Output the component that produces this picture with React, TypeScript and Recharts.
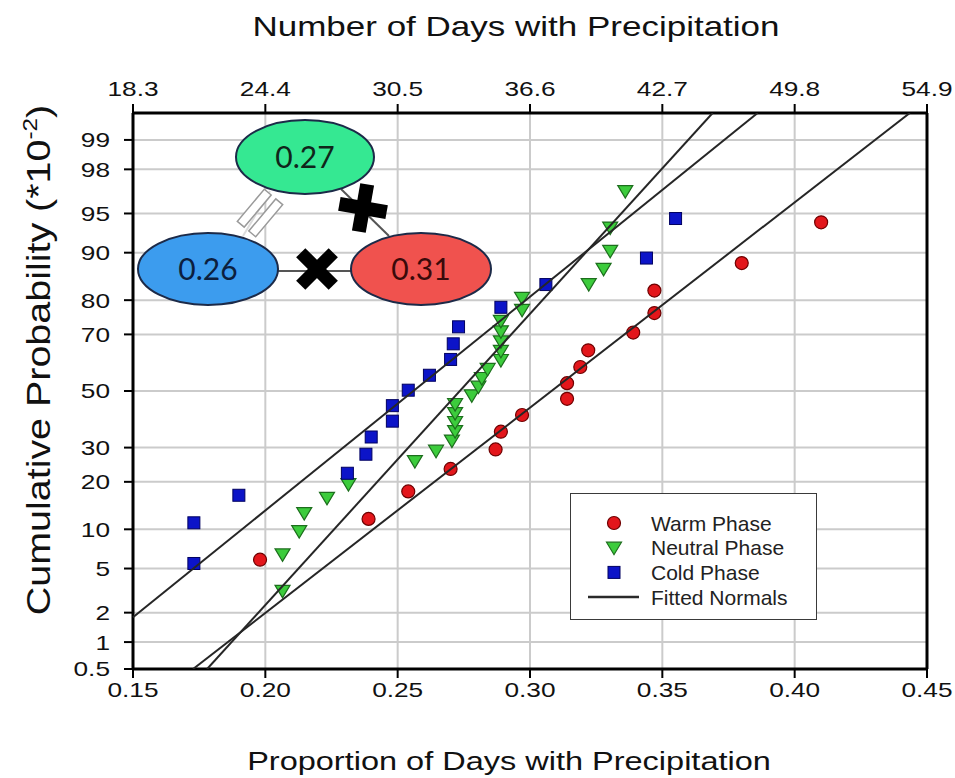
import React from "react";
import {
  ScatterChart,
  Scatter,
  XAxis,
  YAxis,
  CartesianGrid,
  ReferenceLine,
  Legend,
} from "recharts";

// proportion of days with precipitation (x) and cumulative probability in percent (p)
const warmX = [0.198, 0.239, 0.254, 0.27, 0.287, 0.289, 0.297, 0.314, 0.314, 0.319, 0.322, 0.339, 0.347, 0.347, 0.38, 0.41];
const warmP = [5.9, 11.8, 17.6, 23.5, 29.4, 35.3, 41.2, 47.1, 52.9, 58.8, 64.7, 70.6, 76.5, 82.4, 88.2, 94.1];

const neutralX = [
  0.2065, 0.2065, 0.2128, 0.2147, 0.2233, 0.2314, 0.2565, 0.2645, 0.2705, 0.2717,
  0.2717, 0.2717, 0.2717, 0.278, 0.2805, 0.2818, 0.284, 0.289, 0.289, 0.289,
  0.289, 0.289, 0.297, 0.297, 0.3222, 0.3278, 0.3303, 0.3303, 0.336,
];
const neutralP = [
  3.2, 6.5, 9.7, 12.9, 16.1, 19.4, 25.8, 29.0, 32.3, 35.5,
  38.7, 41.9, 45.2, 48.4, 51.6, 54.8, 58.1, 61.3, 64.5, 67.7,
  71.0, 74.2, 77.4, 80.6, 83.9, 87.1, 90.3, 93.5, 96.8,
];

const coldX = [0.173, 0.173, 0.19, 0.231, 0.238, 0.24, 0.248, 0.248, 0.254, 0.262, 0.27, 0.271, 0.273, 0.289, 0.306, 0.344, 0.355];
const coldP = [5.5, 11.1, 16.7, 22.3, 27.9, 33.5, 39.0, 44.6, 50.3, 55.8, 61.5, 66.9, 72.4, 78.1, 83.8, 89.1, 94.5];

// fitted normal lines, end points
const warmFitX = [0.1727, 0.4435];
const warmFitP = [0.5, 99.5];
const neutralFitX = [0.178, 0.369];
const neutralFitP = [0.5, 99.5];
const coldFitX = [0.15, 0.386];
const coldFitP = [1.8, 99.5];

const xTicks = [0.15, 0.2, 0.25, 0.3, 0.35, 0.4, 0.45];
const topLabels = ["18.3", "24.4", "30.5", "36.6", "42.7", "49.8", "54.9"];
const probTicks = [0.5, 1, 2, 5, 10, 20, 30, 50, 70, 80, 90, 95, 98, 99];

const legendItems = [
  { name: "Warm Phase", kind: "circle" },
  { name: "Neutral Phase", kind: "triangle" },
  { name: "Cold Phase", kind: "square" },
  { name: "Fitted Normals", kind: "line" },
];

const FONT = '"Liberation Sans", Arial, sans-serif';
const SX = 1.25;
const RED = "#e3161b";
const GREEN = "#3ccc3c";
const BLUE = "#0c14c8";

// inverse standard normal cdf (Acklam), used for the probability axis
function probit(p: number): number {
  const a = [-39.69683028665376, 220.9460984245205, -275.9285104469687, 138.357751867269, -30.66479806614716, 2.506628277459239];
  const b = [-54.47609879822406, 161.5858368580409, -155.6989798598866, 66.80131188771972, -13.28068155288572];
  const c = [-0.007784894002430293, -0.3223964580411365, -2.400758277161838, -2.549732539343734, 4.374664141464968, 2.938163982698783];
  const d = [0.007784695709041462, 0.3224671290700398, 2.445134137142996, 3.754408661907416];
  const pl = 0.02425;
  if (p < pl) {
    const q = Math.sqrt(-2 * Math.log(p));
    return (((((c[0] * q + c[1]) * q + c[2]) * q + c[3]) * q + c[4]) * q + c[5]) / ((((d[0] * q + d[1]) * q + d[2]) * q + d[3]) * q + 1);
  }
  if (p > 1 - pl) {
    const q = Math.sqrt(-2 * Math.log(1 - p));
    return -(((((c[0] * q + c[1]) * q + c[2]) * q + c[3]) * q + c[4]) * q + c[5]) / ((((d[0] * q + d[1]) * q + d[2]) * q + d[3]) * q + 1);
  }
  const q = p - 0.5;
  const r = q * q;
  return ((((((a[0] * r + a[1]) * r + a[2]) * r + a[3]) * r + a[4]) * r + a[5]) * q) / (((((b[0] * r + b[1]) * r + b[2]) * r + b[3]) * r + b[4]) * r + 1);
}

const toPoints = (xs: number[], ps: number[]) => xs.map((x, i) => ({ x, z: probit(ps[i] / 100) }));

const warmData = toPoints(warmX, warmP);
const neutralData = toPoints(neutralX, neutralP);
const coldData = toPoints(coldX, coldP);
const warmFit = toPoints(warmFitX, warmFitP);
const neutralFit = toPoints(neutralFitX, neutralFitP);
const coldFit = toPoints(coldFitX, coldFitP);

const yTicks = probTicks.map((p) => probit(p / 100));
const yDomain = [probit(0.005), probit(0.995)];

const Circle = ({ cx, cy }: any) => <circle cx={cx} cy={cy} r={6.5} fill={RED} stroke="#6e0000" strokeWidth={1.2} />;
const DownTriangle = ({ cx, cy }: any) => (
  <path d={`M${cx - 7.5},${cy - 5.5} L${cx + 7.5},${cy - 5.5} L${cx},${cy + 7} Z`} fill={GREEN} stroke="#1d6e1d" strokeWidth={1.2} />
);
const Square = ({ cx, cy }: any) => <rect x={cx - 6} y={cy - 6} width={12} height={12} fill={BLUE} stroke="#000060" strokeWidth={1} />;
const NoShape = () => <g />;

const BottomTick = ({ x, y, payload }: any) => (
  <text transform={`translate(${x},${y}) scale(${SX},1)`} textAnchor="middle" dy="0.71em" fontFamily={FONT} fontSize={21} fill="#111">
    {payload.value.toFixed(2)}
  </text>
);

const TopTick = ({ x, y, payload }: any) => (
  <text transform={`translate(${x},${y}) scale(${SX},1)`} textAnchor="middle" fontFamily={FONT} fontSize={21} fill="#111">
    {topLabels[xTicks.indexOf(payload.value)]}
  </text>
);

const LeftTick = ({ x, y, payload }: any) => (
  <text transform={`translate(${x},${y}) scale(${SX},1)`} textAnchor="end" dy="0.355em" fontFamily={FONT} fontSize={21} fill="#111">
    {probTicks[yTicks.indexOf(payload.value)]}
  </text>
);

const TopTitle = () => (
  <text transform={`translate(516,36) scale(${SX},1)`} textAnchor="middle" fontFamily={FONT} fontSize={28} fill="#111">
    Number of Days with Precipitation
  </text>
);

const BottomTitle = () => (
  <text transform={`translate(509,770) scale(${SX},1)`} textAnchor="middle" fontFamily={FONT} fontSize={26} fill="#111">
    Proportion of Days with Precipitation
  </text>
);

const LeftTitle = () => (
  <text transform="translate(50,360) rotate(-90) scale(1.16,1)" textAnchor="middle" fontFamily={FONT} fontSize={34} fill="#111">
    Cumulative Probability (*10
    <tspan dy={-13} fontSize={21}>-2</tspan>
    <tspan dy={13}>)</tspan>
  </text>
);

const LegendBox = () => (
  <div style={{ width: 247, height: 127, border: "1.5px solid #3a3a3a", background: "#fff", boxSizing: "border-box" }}>
    <svg width={245} height={125}>
      {legendItems.map((item, i) => {
        const cy = 29 + i * 24.7;
        const cx = 43;
        return (
          <g key={item.name}>
            {item.kind === "circle" && <Circle cx={cx} cy={cy} />}
            {item.kind === "triangle" && <DownTriangle cx={cx} cy={cy} />}
            {item.kind === "square" && <Square cx={cx} cy={cy} />}
            {item.kind === "line" && <line x1={17} x2={68} y1={cy} y2={cy} stroke="#2a2a2a" strokeWidth={2.5} />}
            <text x={80} y={cy + 7.5} fontFamily={FONT} fontSize={21} fill="#222">
              {item.name}
            </text>
          </g>
        );
      })}
    </svg>
  </div>
);

// the phase-comparison sketch drawn over the upper left of the plot
const Inset = () => (
  <svg width={955} height={778} style={{ position: "absolute", left: 0, top: 0, pointerEvents: "none" }}>
    <line x1={243} y1={236} x2={270} y2={191} stroke="#dcdcdc" strokeWidth={2} />
    <line x1={278} y1={271} x2={352} y2={271} stroke="#555" strokeWidth={2} />
    <line x1={341} y1={189} x2={389} y2={236} stroke="#555" strokeWidth={2} />
    <g transform="translate(260,213) rotate(40)">
      <rect x={-12} y={-21} width={9} height={42} fill="#fff" stroke="#9a9a9a" strokeWidth={1.5} />
      <rect x={3} y={-21} width={9} height={42} fill="#fff" stroke="#9a9a9a" strokeWidth={1.5} />
    </g>
    <ellipse cx={305} cy={157} rx={69} ry={37} fill="#35e892" stroke="#1c2a48" strokeWidth={2} />
    <ellipse cx={208} cy={269} rx={70} ry={36} fill="#3c9cee" stroke="#1c2a48" strokeWidth={2} />
    <ellipse cx={421} cy={269} rx={70} ry={36} fill="#f0524e" stroke="#1c2a48" strokeWidth={2} />
    <text x={305} y={168} textAnchor="middle" fontFamily="Lato, sans-serif" fontSize={30} fill="#10251a">0.27</text>
    <text x={208} y={280} textAnchor="middle" fontFamily="Lato, sans-serif" fontSize={30} fill="#0c1f3e">0.26</text>
    <text x={421} y={280} textAnchor="middle" fontFamily="Lato, sans-serif" fontSize={30} fill="#3a0a0a">0.31</text>
    <g transform="translate(363,208) rotate(10)" stroke="#000" strokeWidth={14}>
      <line x1={-24} y1={0} x2={24} y2={0} />
      <line x1={0} y1={-24} x2={0} y2={24} />
    </g>
    <g transform="translate(317,269) rotate(45)" stroke="#000" strokeWidth={13}>
      <line x1={-23} y1={0} x2={23} y2={0} />
      <line x1={0} y1={-23} x2={0} y2={23} />
    </g>
  </svg>
);

export default function App() {
  return (
    <div style={{ position: "absolute", left: 0, top: 0, width: 955, height: 778, background: "#fff" }}>
      <ScatterChart width={955} height={778} margin={{ top: 0, right: 28, bottom: 0, left: 0 }}>
        <CartesianGrid xAxisId="bottom" yAxisId="left" stroke="#cbcbcb" strokeWidth={2} />
        <XAxis
          xAxisId="bottom"
          type="number"
          dataKey="x"
          domain={[0.15, 0.45]}
          ticks={xTicks}
          height={109}
          tickSize={9}
          tickMargin={4}
          tick={<BottomTick />}
          axisLine={{ stroke: "#000", strokeWidth: 3 }}
          tickLine={{ stroke: "#000", strokeWidth: 2 }}
          label={{ content: () => <BottomTitle /> }}
        />
        <XAxis
          xAxisId="top"
          orientation="top"
          type="number"
          dataKey="x"
          domain={[0.15, 0.45]}
          ticks={xTicks}
          height={113}
          tickSize={9}
          tickMargin={8}
          tick={<TopTick />}
          axisLine={{ stroke: "#000", strokeWidth: 3 }}
          tickLine={{ stroke: "#000", strokeWidth: 2 }}
          label={{ content: () => <TopTitle /> }}
        />
        <YAxis
          yAxisId="left"
          type="number"
          dataKey="z"
          domain={yDomain}
          allowDataOverflow
          ticks={yTicks}
          width={133}
          tickSize={9}
          tickMargin={14}
          tick={<LeftTick />}
          axisLine={{ stroke: "#000", strokeWidth: 3 }}
          tickLine={{ stroke: "#000", strokeWidth: 2 }}
          label={{ content: () => <LeftTitle /> }}
        />
        <ReferenceLine xAxisId="bottom" yAxisId="left" x={0.45} stroke="#000" strokeWidth={3} />
        <Scatter name="Warm Phase" data={warmData} xAxisId="bottom" yAxisId="left" shape={Circle} isAnimationActive={false} />
        <Scatter name="Neutral Phase" data={neutralData} xAxisId="bottom" yAxisId="left" shape={DownTriangle} isAnimationActive={false} />
        <Scatter name="Cold Phase" data={coldData} xAxisId="bottom" yAxisId="left" shape={Square} isAnimationActive={false} />
        <Scatter data={warmFit} xAxisId="top" yAxisId="left" shape={NoShape} line={{ stroke: "#262626", strokeWidth: 2 }} isAnimationActive={false} />
        <Scatter data={neutralFit} xAxisId="top" yAxisId="left" shape={NoShape} line={{ stroke: "#262626", strokeWidth: 2 }} isAnimationActive={false} />
        <Scatter data={coldFit} xAxisId="top" yAxisId="left" shape={NoShape} line={{ stroke: "#262626", strokeWidth: 2 }} isAnimationActive={false} />
        <Legend
          layout="vertical"
          align="center"
          verticalAlign="middle"
          content={() => <LegendBox />}
          wrapperStyle={{ left: 570, top: 493, width: 247, height: 127 }}
        />
      </ScatterChart>
      <Inset />
    </div>
  );
}
